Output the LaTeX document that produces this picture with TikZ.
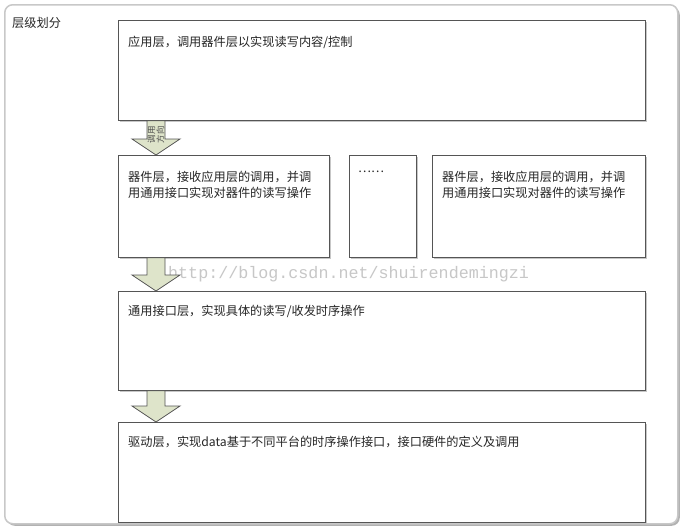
\documentclass[tikz,border=0pt]{standalone}
\usepackage{fontspec}
\setmainfont{Noto Sans CJK SC}
\newfontfamily\wmfont{Liberation Mono}
\usetikzlibrary{positioning,calc,shadows}

\definecolor{arrowfill}{RGB}{222,228,202}
\definecolor{boxline}{RGB}{85,85,85}
\definecolor{frameline}{RGB}{200,200,200}

\tikzset{
  frame/.style={draw=frameline, fill=white, line width=1.5pt, rounded corners=8pt, anchor=north west, inner sep=0pt,
    drop shadow={shadow xshift=2pt, shadow yshift=-2pt, fill=black!30, opacity=1}},
  layer/.style={draw=boxline, fill=white, line width=0.8pt, anchor=north west, inner sep=0pt,
    drop shadow={shadow xshift=2pt, shadow yshift=-2pt, fill=black!22, opacity=1}},
  layertext/.style={anchor=north west, align=left, inner sep=0pt, font=\fontsize{12.2}{16}\selectfont, text=black!85},
  blockarrow/.style={draw=boxline, fill=arrowfill, line width=0.8pt, line join=miter},
}

\begin{document}
\begin{tikzpicture}[x=1pt, y=1pt]
    \useasboundingbox (0,0) rectangle (683,-530);
    % Frame
    \node[frame, minimum width=673pt, minimum height=519pt] (frame) at (4,-4) {};
    \node[layertext] (title) at (12,-17) {层级划分};
    % Layers
    \node[layer, minimum width=527pt, minimum height=100pt] (app) at (118,-20) {};
    \node[layer, minimum width=211pt, minimum height=102pt] (dev1) at (118,-155) {};
    \node[layer, minimum width=67pt, minimum height=102pt] (dots) at (349,-155) {};
    \node[layer, minimum width=213pt, minimum height=102pt] (dev2) at (432,-155) {};
    \node[layer, minimum width=527pt, minimum height=99pt] (io) at (118,-291) {};
    \node[layer, minimum width=527pt, minimum height=100pt] (drv) at (118,-422) {};
    % Texts
    \node[layertext] (app-t) at ($(app.north west)+(10,-16)$) {应用层，调用器件层以实现读写内容/控制};
    \node[layertext] (dev1-t) at ($(dev1.north west)+(10,-16)$) {器件层，接收应用层的调用，并调\\用通用接口实现对器件的读写操作};
    \node[layertext] (dots-t) at ($(dots.north west)+(9,-16)$) {……};
    \node[layertext] (dev2-t) at ($(dev2.north west)+(10,-16)$) {器件层，接收应用层的调用，并调\\用通用接口实现对器件的读写操作};
    \node[layertext] (io-t) at ($(io.north west)+(10,-14)$) {通用接口层，实现具体的读写/收发时序操作};
    \node[layertext] (drv-t) at ($(drv.north west)+(10,-14)$) {驱动层，实现data基于不同平台的时序操作接口，接口硬件的定义及调用};
    % Watermark
    \node[anchor=west, inner sep=0pt, text=black!22, font=\wmfont\fontsize{16.7}{18}\selectfont] (wm) at (168,-274) {http://blog.csdn.net/shuirendemingzi};
    % Arrows
    \foreach \a/\b in {app/dev1, dev1/io, io/drv}{
        \coordinate (tip) at ($(\b.north west)+(38,0)$);
        \coordinate (hb) at ($(tip)+(0,16)$);
        \draw[blockarrow] ($(\a.south west)+(29,0)$) coordinate (sl) -- (sl |- hb) -- ($(hb)+(-24,0)$) -- (tip)
            -- ($(hb)+(24,0)$) -- ($(sl |- hb)+(18,0)$) -- ($(sl)+(18,0)$) -- cycle;
    }
    \node[rotate=90, align=center, inner sep=0pt, font=\fontsize{8.5}{9}\selectfont, text=black!70] (dir) at ($(app.south west)+(38,-14)$) {调用\\方向};
\end{tikzpicture}
\end{document}
